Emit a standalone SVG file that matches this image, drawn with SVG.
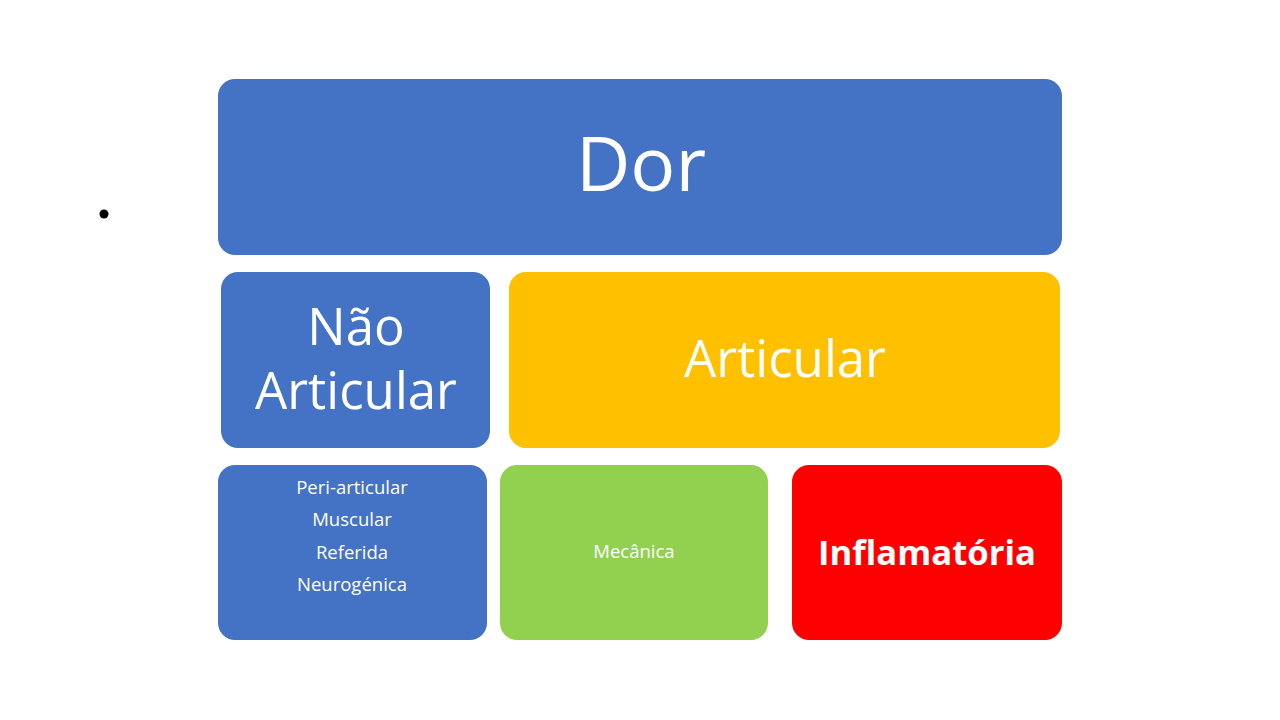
<svg xmlns="http://www.w3.org/2000/svg" width="1280" height="720" viewBox="0 0 1280 720">
<style>
.t{font-family:"Open Sans","Liberation Sans",sans-serif;fill:#fff;text-anchor:middle}
.b{fill:#4472C4}
</style>
<rect width="1280" height="720" fill="#fff"/>
<circle cx="104" cy="214" r="4.5" fill="#000"/>
<g id="dor">
<rect class="b" x="218" y="79" width="844" height="176" rx="17"/>
<text class="t" x="641" y="191" font-size="75">Dor</text>
</g>
<g id="nao-articular">
<rect class="b" x="221" y="272" width="269" height="176" rx="17"/>
<text class="t" font-size="51"><tspan x="356" y="345">Não</tspan><tspan x="356" y="409">Articular</tspan></text>
</g>
<g id="articular">
<rect x="509" y="272" width="551" height="176" rx="17" fill="#FFC000"/>
<text class="t" x="785" y="377" font-size="51">Articular</text>
</g>
<g id="subtipos">
<rect class="b" x="218" y="465" width="269" height="175" rx="17"/>
<text class="t" font-size="18.5"><tspan x="352" y="494">Peri-articular</tspan><tspan x="352" y="526">Muscular</tspan><tspan x="352" y="559">Referida</tspan><tspan x="352" y="591">Neurogénica</tspan></text>
</g>
<g id="mecanica">
<rect x="500" y="465" width="268" height="175" rx="17" fill="#92D050"/>
<text class="t" x="634" y="558" font-size="18.5">Mecânica</text>
</g>
<g id="inflamatoria">
<rect x="792" y="465" width="270" height="175" rx="17" fill="#FF0000"/>
<text class="t" x="927" y="565" font-size="34.7" font-weight="bold">Inflamatória</text>
</g>
<g id="connectors"/>
</svg>
